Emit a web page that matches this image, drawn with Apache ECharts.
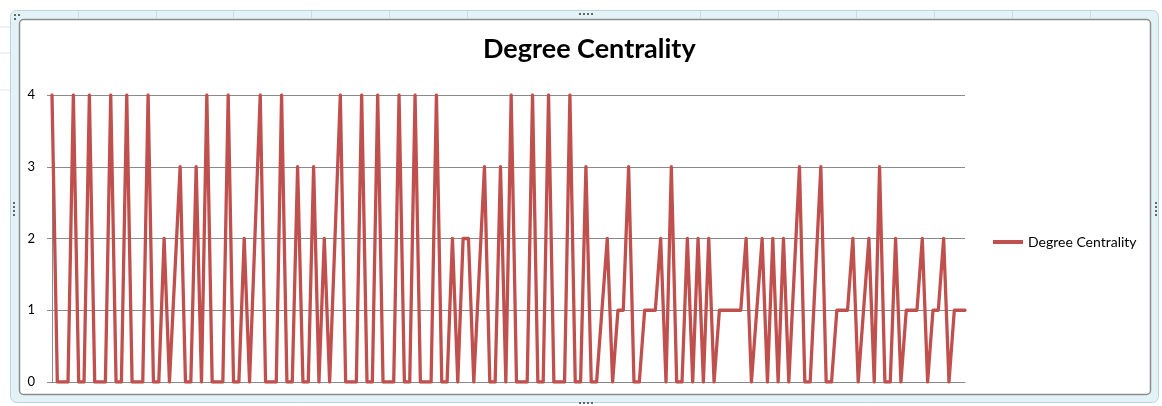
<!DOCTYPE html>
<html>
<head>
<meta charset="utf-8">
<title>Degree Centrality</title>
<script src="https://cdn.jsdelivr.net/npm/echarts@6/dist/echarts.min.js"></script>
<style>
  html, body { margin: 0; padding: 0; background: #ffffff; }
  #chart { width: 1162px; height: 406px; }
</style>
</head>
<body>
<div id="chart"></div>
<script>
// Degree centrality of each node, in node order
const degreeValues = [
  4, 0, 0, 0, 4, 0, 0, 4, 0, 0, 0, 4, 0, 0, 4, 0, 0, 0, 4, 0,
  0, 2, 0, 1.5, 3, 0, 0, 3, 0, 4, 0, 0, 0, 4, 0, 0, 2, 0, 2, 4,
  0, 0, 0, 4, 0, 0, 3, 0, 0, 3, 0, 2, 0, 2, 4, 0, 0, 0, 4, 0,
  0, 4, 0, 0, 0, 4, 0, 0, 4, 0, 0, 0, 4, 0, 0, 2, 0, 2, 2, 0,
  1.5, 3, 0, 0, 3, 0, 4, 0, 0, 0, 4, 0, 0, 4, 0, 0, 0, 4, 0, 0,
  3, 0, 0, 1, 2, 0, 1, 1, 3, 0, 0, 1, 1, 1, 2, 0, 3, 0, 0, 2,
  0, 2, 0, 2, 0, 1, 1, 1, 1, 1, 2, 0, 1, 2, 0, 2, 0, 2, 0, 1.5,
  3, 0, 0, 1.5, 3, 0, 0, 1, 1, 1, 2, 0, 1, 2, 0, 3, 0, 0, 2, 0,
  1, 1, 1, 2, 0, 1, 1, 2, 0, 1, 1, 1
];
// Node numbers along the horizontal axis
const nodeIds = degreeValues.map((_, i) => String(i + 1));
// Value axis ticks
const yTicks = [0, 1, 2, 3, 4];
const seriesName = 'Degree Centrality';

const chart = echarts.init(document.getElementById('chart'), null, { renderer: 'canvas' });

const gridColor = '#8a8a8a';
const fontStack = 'Lato, "Open Sans", "DejaVu Sans", sans-serif';

// faint spreadsheet column lines visible in the selection frame band
const columnXs = [78, 156, 233, 311, 389, 467, 700, 778, 856, 934, 1012, 1090];
const columnLines = columnXs.map(x => ({
  type: 'line',
  shape: { x1: x + 0.5, y1: 11, x2: x + 0.5, y2: 19 },
  style: { stroke: '#c9dde4', lineWidth: 1 }
}));

// small sizing handles on the frame
function handleDots(x, y, dx, dy, n) {
  const out = [];
  for (let k = 0; k < n; k++) {
    out.push({ type: 'rect', shape: { x: x + k * dx, y: y + k * dy, width: 2, height: 2 }, style: { fill: '#666' } });
  }
  return out;
}

chart.setOption({
  animation: false,
  backgroundColor: '#ffffff',
  title: {
    text: seriesName,
    left: 483,
    top: 36,
    padding: 0,
    textStyle: {
      fontFamily: fontStack,
      fontWeight: 'bold',
      fontSize: 27,
      color: '#000000'
    }
  },
  legend: {
    left: 988,
    top: 230,
    orient: 'vertical',
    itemWidth: 30,
    itemHeight: 4,
    textStyle: { fontFamily: fontStack, fontSize: 14, color: '#000000' },
    data: [{ name: seriesName, icon: 'rect' }]
  },
  grid: {
    left: 52,
    right: 197,
    top: 95,
    bottom: 24,
    containLabel: false
  },
  xAxis: {
    type: 'category',
    boundaryGap: false,
    data: nodeIds,
    axisLine: { show: true, lineStyle: { color: gridColor, width: 1 } },
    axisTick: { show: false },
    axisLabel: { show: false },
    splitLine: { show: false }
  },
  yAxis: {
    type: 'value',
    min: yTicks[0],
    max: yTicks[yTicks.length - 1],
    interval: 1,
    axisLine: { show: true, lineStyle: { color: gridColor, width: 1 } },
    axisTick: { show: true, length: 5, lineStyle: { color: gridColor } },
    axisLabel: {
      margin: 17,
      fontFamily: fontStack,
      fontSize: 13,
      color: '#000000',
      formatter: v => String(v)
    },
    splitLine: { show: true, lineStyle: { color: gridColor, width: 1 } }
  },
  series: [{
    name: seriesName,
    type: 'line',
    data: degreeValues,
    symbol: 'none',
    lineStyle: { color: '#c0504d', width: 3.3, join: 'round', cap: 'round' },
    itemStyle: { color: '#c0504d' }
  }],
  graphic: [
    { type: 'group', silent: true, z: -10, children: [
      { type: 'line', shape: { x1: 0, y1: 27, x2: 10, y2: 27 }, style: { stroke: '#d8e4ea', lineWidth: 1 } },
      { type: 'line', shape: { x1: 0, y1: 53, x2: 10, y2: 53 }, style: { stroke: '#d8e4ea', lineWidth: 1 } },
      { type: 'line', shape: { x1: 0, y1: 90, x2: 10, y2: 90 }, style: { stroke: '#d8e4ea', lineWidth: 1 } }
    ]},
    // selection frame of the chart object
    { type: 'rect', silent: true, z: -9,
      shape: { x: 10.5, y: 10.5, width: 1148, height: 392, r: 6 },
      style: { fill: '#e3f2f6', stroke: '#b9d6df', lineWidth: 1 } },
    { type: 'group', silent: true, z: -9, children: columnLines },
    // chart area
    { type: 'rect', silent: true, z: -8,
      shape: { x: 19.5, y: 19.5, width: 1131, height: 375, r: 4 },
      style: { fill: '#ffffff', stroke: '#8c8c8c', lineWidth: 1.5 } },
    { type: 'group', silent: true, z: -7, children: [].concat(
      handleDots(14, 14, 4, 0, 2),
      handleDots(14, 18, 0, 0, 1),
      handleDots(579, 13, 4, 0, 4),
      handleDots(579, 402, 4, 0, 4),
      handleDots(13, 202, 0, 4, 4),
      handleDots(1155, 202, 0, 4, 4)
    )}
  ]
});
</script>
</body>
</html>
